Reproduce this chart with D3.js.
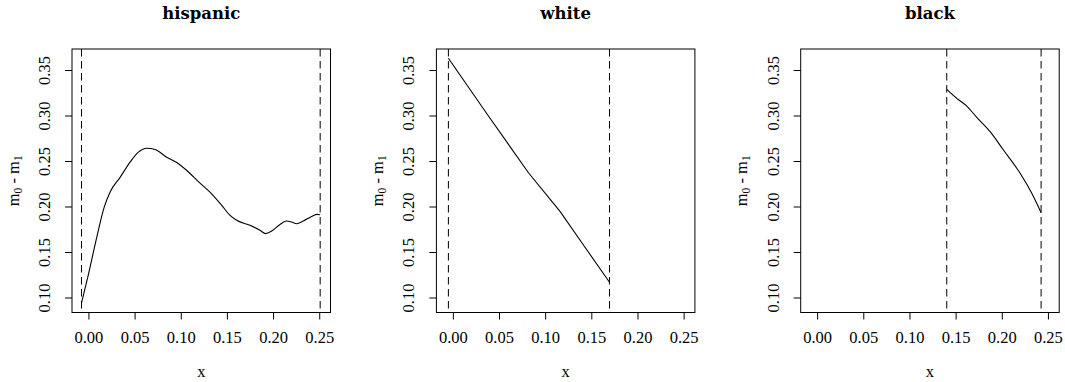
<!DOCTYPE html>
<html>
<head>
<meta charset="utf-8">
<script src="https://cdn.jsdelivr.net/npm/d3@7"></script>
<style>
  html, body { margin: 0; padding: 0; background: #fff; }
  svg { display: block; }
</style>
</head>
<body>
<svg id="chart" width="1065" height="382"></svg>
<script>
// ---- data ----
const panelTitles = ["hispanic", "white", "black"];
const xTicks = [0.00, 0.05, 0.10, 0.15, 0.20, 0.25];
const yTicks = [0.10, 0.15, 0.20, 0.25, 0.30, 0.35];
const xDomain = [-0.0178, 0.2622];
const yDomain = [0.0835, 0.3731];

const hispanicX = [-0.0075, -0.001, 0.009, 0.017, 0.0235, 0.0343, 0.0451, 0.0541, 0.0632, 0.0722, 0.0848, 0.0957, 0.1065, 0.1209, 0.1317, 0.1444, 0.1534, 0.1606, 0.175, 0.1858, 0.192, 0.1985, 0.2075, 0.2147, 0.2201, 0.2255, 0.2327, 0.2418, 0.2478, 0.251];
const hispanicY = [0.094, 0.121, 0.166, 0.199, 0.216, 0.232, 0.2487, 0.2597, 0.264, 0.2626, 0.2542, 0.2484, 0.2396, 0.2257, 0.2158, 0.2012, 0.1902, 0.1848, 0.1793, 0.1738, 0.1702, 0.173, 0.1803, 0.184, 0.1829, 0.1811, 0.184, 0.1891, 0.1913, 0.191];

const whiteX = [-0.0048, 0.0382, 0.0819, 0.1163, 0.1422, 0.1697];
const whiteY = [0.3629, 0.3000, 0.2371, 0.1943, 0.1566, 0.1167];

const blackX = [0.1404, 0.1513, 0.1621, 0.1729, 0.1874, 0.2018, 0.2199, 0.2325, 0.2426];
const blackY = [0.3288, 0.3189, 0.3104, 0.2980, 0.2822, 0.2621, 0.2365, 0.2145, 0.1932];

const hispanicBounds = [-0.0075, 0.251];
const whiteBounds = [-0.0048, 0.1697];
const blackBounds = [0.1404, 0.2426];

const seriesX = [hispanicX, whiteX, blackX];
const seriesY = [hispanicY, whiteY, blackY];
const bounds = [hispanicBounds, whiteBounds, blackBounds];
const curveTypes = [d3.curveMonotoneX, d3.curveLinear, d3.curveMonotoneX];

// ---- layout ----
const panelLefts = [72, 436.4, 800.7];
const boxW = 258.5;
const boxTop = 49;
const boxBottom = 312.5;
const serif = "Liberation Serif, serif";

const svg = d3.select("#chart");

panelTitles.forEach((title, i) => {
  const left = panelLefts[i];
  const x = d3.scaleLinear().domain(xDomain).range([left, left + boxW]);
  const y = d3.scaleLinear().domain(yDomain).range([boxBottom, boxTop]);
  const g = svg.append("g");

  // title
  g.append("text")
    .attr("x", left + boxW / 2)
    .attr("y", 19)
    .attr("text-anchor", "middle")
    .attr("font-family", "DejaVu Serif, serif")
    .attr("font-weight", "bold")
    .attr("font-size", 16.5)
    .attr("fill", "#000")
    .text(title);

  // x axis
  const xAxis = d3.axisBottom(x).tickValues(xTicks).tickFormat(d3.format(".2f"))
    .tickSize(7).tickSizeOuter(0);
  const gx = g.append("g").attr("transform", `translate(0,${boxBottom})`).call(xAxis)
    .attr("font-family", serif).attr("font-size", 16.5);
  gx.select(".domain").remove();
  gx.selectAll(".tick line").attr("stroke", "#000").attr("stroke-width", 1);
  gx.selectAll(".tick text").attr("fill", "#000").attr("dy", null).attr("y", 30.5);

  // y axis
  const yAxis = d3.axisLeft(y).tickValues(yTicks).tickFormat(d3.format(".2f"))
    .tickSize(7).tickSizeOuter(0);
  const gy = g.append("g").attr("transform", `translate(${left},0)`).call(yAxis)
    .attr("font-family", serif).attr("font-size", 16.5);
  gy.select(".domain").remove();
  gy.selectAll(".tick line").attr("stroke", "#000").attr("stroke-width", 1);
  gy.selectAll(".tick text")
    .attr("fill", "#000")
    .attr("x", null).attr("dy", null)
    .attr("text-anchor", "middle")
    .attr("transform", "translate(-22,0) rotate(-90)");

  // x label
  g.append("text")
    .attr("x", left + boxW / 2)
    .attr("y", 377)
    .attr("text-anchor", "middle")
    .attr("font-family", serif)
    .attr("font-size", 16.5)
    .attr("fill", "#000")
    .text("x");

  // y label m0 - m1
  const yl = g.append("text")
    .attr("transform", `translate(${left - 53.5},${(boxTop + boxBottom) / 2}) rotate(-90)`)
    .attr("text-anchor", "middle")
    .attr("font-family", serif)
    .attr("font-size", 16.5)
    .attr("fill", "#000");
  yl.append("tspan").text("m");
  yl.append("tspan").attr("font-size", 11.5).attr("dy", 3).text("0");
  yl.append("tspan").attr("dy", -3).text("\u00a0-\u00a0m");
  yl.append("tspan").attr("font-size", 11.5).attr("dy", 3).text("1");

  // box
  g.append("rect")
    .attr("x", left).attr("y", boxTop)
    .attr("width", boxW).attr("height", boxBottom - boxTop)
    .attr("fill", "none").attr("stroke", "#000").attr("stroke-width", 1);

  // dashed bounds
  g.selectAll("line.bound").data(bounds[i]).enter().append("line")
    .attr("class", "bound")
    .attr("x1", d => x(d)).attr("x2", d => x(d))
    .attr("y1", boxTop).attr("y2", boxBottom)
    .attr("stroke", "#000").attr("stroke-width", 1)
    .attr("stroke-dasharray", "7.5,4.5");

  // curve
  const pts = seriesX[i].map((v, k) => [v, seriesY[i][k]]);
  const line = d3.line().x(d => x(d[0])).y(d => y(d[1])).curve(curveTypes[i]);
  g.append("path").datum(pts)
    .attr("d", line)
    .attr("fill", "none").attr("stroke", "#000").attr("stroke-width", 1.1);
});
</script>
</body>
</html>
